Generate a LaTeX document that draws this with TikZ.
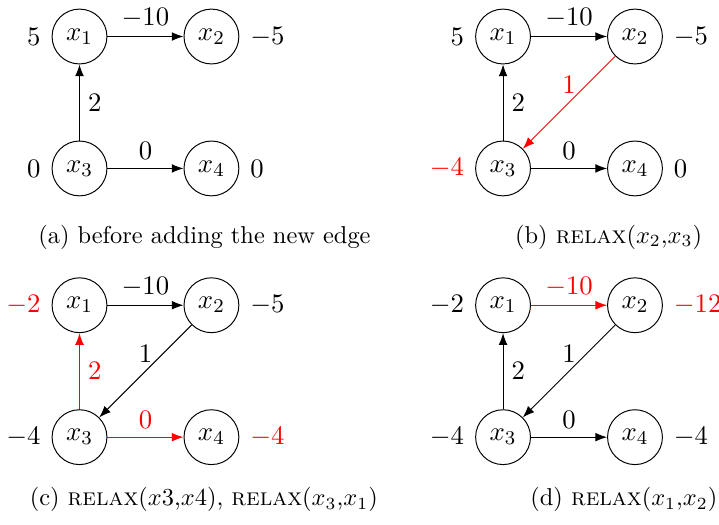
\documentclass[tikz,border=0pt]{standalone}
\usepackage{tikz}
\usetikzlibrary{arrows.meta}

\begin{document}
\begin{tikzpicture}[
  font=\fontsize{11}{13}\selectfont,
  vtx/.style={draw, circle, minimum size=0.79cm, inner sep=1pt},
  capt/.style={align=center, font=\normalsize},
  label distance=1pt,
  >=Latex, thin
]
  \useasboundingbox (-1.145,2.426) rectangle (9.21,-5.134);

  % (a) before the new edge
  \node[vtx, label=left:$5$]   (a1) at (0,1.9)   {$x_1$};
  \node[vtx, label=right:$-5$] (a2) at (1.9,1.9) {$x_2$};
  \node[vtx, label=left:$0$]   (a3) at (0,0)     {$x_3$};
  \node[vtx, label=right:$0$]  (a4) at (1.9,0)   {$x_4$};
  \draw[->] (a1) -- node[above]{$-10$} (a2);
  \draw[->] (a3) -- node[right]{$2$} (a1);
  \draw[->] (a3) -- node[above]{$0$} (a4);
  \node[capt] (ca) at (1.80,-0.99) {(a) before adding the new edge};

  % (b) relax x2 -> x3
  \node[vtx, label=left:$5$]                (b1) at (6.1,1.9) {$x_1$};
  \node[vtx, label=right:$-5$]              (b2) at (8.0,1.9) {$x_2$};
  \node[vtx, label={[red]left:$-4$}]        (b3) at (6.1,0)   {$x_3$};
  \node[vtx, label=right:$0$]               (b4) at (8.0,0)   {$x_4$};
  \draw[->] (b1) -- node[above]{$-10$} (b2);
  \draw[->, red] (b2) -- node[above]{$1$} (b3);
  \draw[->] (b3) -- node[right]{$2$} (b1);
  \draw[->] (b3) -- node[above]{$0$} (b4);
  \node[capt] (cb) at (7.62,-0.99) {(b) \textsc{relax}($x_2$,$x_3$)};

  % (c) relax x3 -> x4 and x3 -> x1
  \node[vtx, label={[red]left:$-2$}]        (c1) at (0,-1.97)   {$x_1$};
  \node[vtx, label=right:$-5$]              (c2) at (1.9,-1.97) {$x_2$};
  \node[vtx, label=left:$-4$]               (c3) at (0,-3.87)   {$x_3$};
  \node[vtx, label={[red]right:$-4$}]       (c4) at (1.9,-3.87) {$x_4$};
  \draw[->] (c1) -- node[above]{$-10$} (c2);
  \draw[->] (c2) -- node[above]{$1$} (c3);
  \draw[->, red] (c3) -- node[right]{$2$} (c1);
  \draw[->, red] (c3) -- node[above]{$0$} (c4);
  \node[capt] (cc) at (1.79,-4.77)
    {(c) \textsc{relax}($x3$,$x4$), \textsc{relax}($x_3$,$x_1$)};

  % (d) relax x1 -> x2
  \node[vtx, label=left:$-2$]               (d1) at (6.1,-1.97) {$x_1$};
  \node[vtx, label={[red]right:$-12$}]      (d2) at (8.0,-1.97) {$x_2$};
  \node[vtx, label=left:$-4$]               (d3) at (6.1,-3.87) {$x_3$};
  \node[vtx, label=right:$-4$]              (d4) at (8.0,-3.87) {$x_4$};
  \draw[->, red] (d1) -- node[above]{$-10$} (d2);
  \draw[->] (d2) -- node[above]{$1$} (d3);
  \draw[->] (d3) -- node[right]{$2$} (d1);
  \draw[->] (d3) -- node[above]{$0$} (d4);
  \node[capt] (cd) at (7.84,-4.77) {(d) \textsc{relax}($x_1$,$x_2$)};
\end{tikzpicture}
\end{document}
